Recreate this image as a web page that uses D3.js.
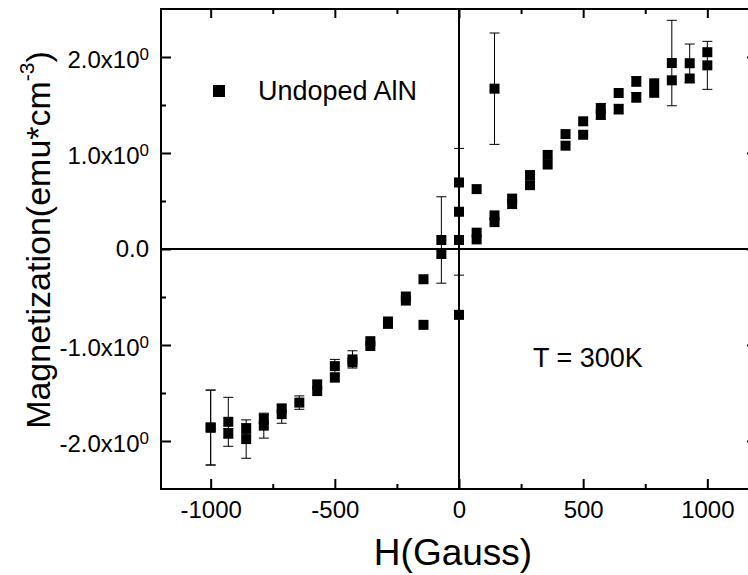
<!DOCTYPE html>
<html>
<head>
<meta charset="utf-8">
<script src="https://cdn.jsdelivr.net/npm/d3@7"></script>
<style>
  body { margin: 0; background: #fff; }
  svg { display: block; font-family: "Liberation Sans", Arial, sans-serif; }
</style>
</head>
<body>
<div id="chart"></div>
<script>
// Magnetization loop of undoped AlN at 300K
var hField = [
  -1000, -1000, -929, -929, -857, -857, -786, -786, -714, -714,
  -643, -571, -571, -500, -500, -429, -429, -357, -357, -286, -286,
  -214, -214, -143, -143, -71, -71,
  0, 0, 0, 0,
  71, 71, 71, 143, 143, 143, 214, 214, 286, 286, 357, 357,
  429, 429, 500, 500, 571, 571, 643, 643, 714, 714, 786, 786,
  857, 857, 929, 929, 1000, 1000
]
var magnet = [
  -1.86, -1.86, -1.80, -1.92, -1.87, -1.98, -1.77, -1.84, -1.66, -1.72,
  -1.60, -1.41, -1.48, -1.22, -1.34, -1.15, -1.18, -0.96, -1.01, -0.755, -0.78,
  -0.495, -0.537, -0.315, -0.79, 0.094, -0.052,
  0.693, 0.388, 0.094, -0.686,
  0.624, 0.17, 0.10, 1.67, 0.35, 0.28, 0.525, 0.468, 0.77, 0.665, 0.98, 0.88,
  1.197, 1.076, 1.33, 1.19, 1.466, 1.40, 1.625, 1.457, 1.746, 1.58, 1.726, 1.627,
  1.937, 1.757, 1.935, 1.776, 2.05, 1.913
]
var magErr = [
  0.39, 0.39, 0.255, 0.05, 0.05, 0.2, 0.05, 0.13, 0.04, 0.095,
  0.07, 0.03, 0.03, 0.07, 0.03, 0.09, 0.03, 0.03, 0.03, 0.02, 0.02,
  0.02, 0.02, 0.02, 0.02, 0.45, 0.02,
  0.02, 0.66, 0.02, 0.02,
  0.02, 0.02, 0.02, 0.58, 0.02, 0.02, 0.02, 0.02, 0.02, 0.04, 0.02, 0.02,
  0.02, 0.03, 0.02, 0.02, 0.05, 0.05, 0.03, 0.05, 0.05, 0.05, 0.03, 0.03,
  0.445, 0.02, 0.2, 0.02, 0.02, 0.25
]

var xMajor = [-1000, -500, 0, 500, 1000]
var xMinor = [-750, -250, 250, 750]
var yMajor = [2, 1, 0, -1, -2]
var yMinor = [1.5, 0.5, -0.5, -1.5]
var yTickLabels = ['2.0x10', '1.0x10', '0.0', '-1.0x10', '-2.0x10']
var seriesName = 'Undoped AlN'
var tempNote = 'T = 300K'

const width = 748
const height = 575

var x = d3.scaleLinear().domain([-1200, 1200]).range([161, 757])
var y = d3.scaleLinear().domain([-2.5, 2.5]).range([489, 9])

var svg = d3.select('#chart')
  .append('svg')
  .attr('width', width)
  .attr('height', height)

// frame
svg.append('rect')
  .attr('x', x(-1200))
  .attr('y', y(2.5))
  .attr('width', x(1200) - x(-1200))
  .attr('height', y(-2.5) - y(2.5))
  .attr('fill', 'none')
  .attr('stroke', '#000')
  .attr('stroke-width', 2)

// axes, all ticks pointing in
function styleAxis (g) {
  g.select('.domain').remove()
  g.selectAll('line').attr('stroke', '#000').attr('stroke-width', 2)
  g.selectAll('text').attr('fill', '#000').style('font-size', '24px')
}

svg.append('g')
  .attr('transform', 'translate(0,' + y(-2.5) + ')')
  .call(d3.axisBottom(x).tickValues(xMajor).tickSize(-10).tickPadding(12).tickFormat(d => String(d)))
  .call(styleAxis)
  .style('font-family', null)

svg.append('g')
  .attr('transform', 'translate(0,' + y(-2.5) + ')')
  .call(d3.axisBottom(x).tickValues(xMinor).tickSize(-5).tickFormat(''))
  .call(styleAxis)

svg.append('g')
  .attr('transform', 'translate(0,' + y(2.5) + ')')
  .call(d3.axisTop(x).tickValues(xMajor).tickSize(-9).tickFormat(''))
  .call(styleAxis)
svg.append('g')
  .attr('transform', 'translate(0,' + y(2.5) + ')')
  .call(d3.axisTop(x).tickValues(xMinor).tickSize(-5).tickFormat(''))
  .call(styleAxis)

var yAxisG = svg.append('g')
  .attr('transform', 'translate(' + x(-1200) + ',0)')
  .call(d3.axisLeft(y).tickValues(yMajor).tickSize(-10).tickPadding(12).tickFormat((d, i) => yTickLabels[i]))
  .call(styleAxis)
  .style('font-family', null)

// add the 10^0 superscript to the labels
yAxisG.selectAll('.tick text').each(function (d, i) {
  var t = d3.select(this)
  var label = yTickLabels[i]
  if (label.indexOf('x10') < 0) {
    t.attr('dy', '0.30em')
    return
  }
  t.text(null).attr('dy', null).attr('y', 10.5)
  t.append('tspan').text(label)
  t.append('tspan').attr('dy', -8.5).style('font-size', '17px').text('0')
})

svg.append('g')
  .attr('transform', 'translate(' + x(-1200) + ',0)')
  .call(d3.axisLeft(y).tickValues(yMinor).tickSize(-5).tickFormat(''))
  .call(styleAxis)

svg.append('g')
  .attr('transform', 'translate(' + x(1200) + ',0)')
  .call(d3.axisRight(y).tickValues(yMajor).tickSize(-10).tickFormat(''))
  .call(styleAxis)
svg.append('g')
  .attr('transform', 'translate(' + x(1200) + ',0)')
  .call(d3.axisRight(y).tickValues(yMinor).tickSize(-5).tickFormat(''))
  .call(styleAxis)

// zero lines
svg.append('line')
  .attr('x1', x(0)).attr('x2', x(0))
  .attr('y1', y(2.5)).attr('y2', y(-2.5))
  .attr('stroke', '#000').attr('stroke-width', 2)
svg.append('line')
  .attr('x1', x(-1200)).attr('x2', x(1200))
  .attr('y1', y(0)).attr('y2', y(0))
  .attr('stroke', '#000').attr('stroke-width', 2)

var points = hField.map((h, i) => ({ h: h, m: magnet[i], e: magErr[i] }))

// error bars
var bars = svg.append('g')
  .attr('stroke', '#000')
  .attr('stroke-width', 1)
  .selectAll('g')
  .data(points.filter(d => y(d.m - d.e) - y(d.m + d.e) > 9))
  .enter().append('g')

bars.append('line')
  .attr('x1', d => x(d.h)).attr('x2', d => x(d.h))
  .attr('y1', d => y(d.m + d.e)).attr('y2', d => y(d.m - d.e))
bars.append('line')
  .attr('x1', d => x(d.h) - 5).attr('x2', d => x(d.h) + 5)
  .attr('y1', d => y(d.m + d.e)).attr('y2', d => y(d.m + d.e))
bars.append('line')
  .attr('x1', d => x(d.h) - 5).attr('x2', d => x(d.h) + 5)
  .attr('y1', d => y(d.m - d.e)).attr('y2', d => y(d.m - d.e))

// square markers
svg.append('g')
  .selectAll('rect')
  .data(points)
  .enter().append('rect')
  .attr('x', d => x(d.h) - 5)
  .attr('y', d => y(d.m) - 5)
  .attr('width', 10)
  .attr('height', 10)
  .attr('fill', '#000')

// legend
svg.append('rect')
  .attr('x', 213).attr('y', 85)
  .attr('width', 12).attr('height', 12)
  .attr('fill', '#000')
svg.append('text')
  .attr('x', 258).attr('y', 100)
  .style('font-size', '27px')
  .text(seriesName)

svg.append('text')
  .attr('x', 533).attr('y', 367)
  .style('font-size', '27px')
  .text(tempNote)

// axis titles
svg.append('text')
  .attr('x', 453).attr('y', 565)
  .attr('text-anchor', 'middle')
  .style('font-size', '37px')
  .text('H(Gauss)')

var yTitle = svg.append('text')
  .attr('transform', 'translate(49.5,240) rotate(-90)')
  .attr('text-anchor', 'middle')
  .style('font-size', '34px')
yTitle.append('tspan').text('Magnetization(emu*cm')
yTitle.append('tspan').attr('dy', -16).style('font-size', '21px').text('-3')
yTitle.append('tspan').attr('dy', 16).text(')')
</script>
</body>
</html>
